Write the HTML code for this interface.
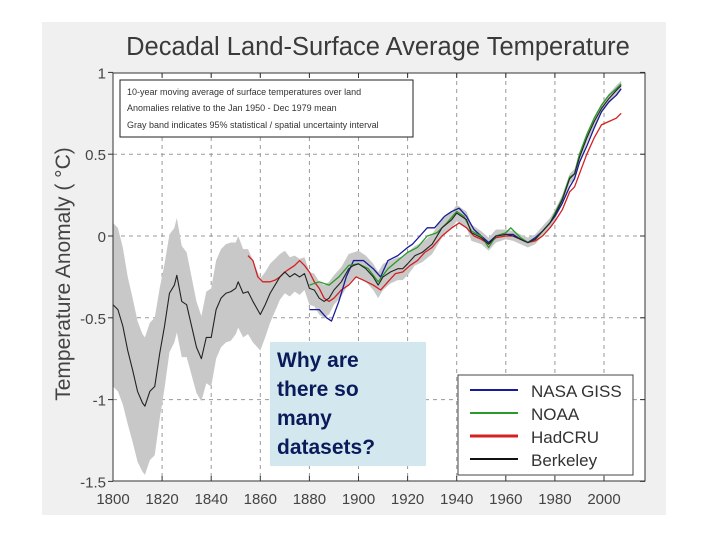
<!DOCTYPE html>
<html><head><meta charset="utf-8"><style>
html,body{margin:0;padding:0;background:#fff;width:720px;height:540px;overflow:hidden}
svg{display:block}
text{font-family:"Liberation Sans",sans-serif}
</style></head><body>
<svg id="chart" width="720" height="540" xmlns="http://www.w3.org/2000/svg">
<rect x="42" y="22" width="624" height="493" fill="#f0f0f0"/>
<rect x="113" y="73" width="532" height="408" fill="#fff"/>
<text x="378" y="55" text-anchor="middle" font-size="25.5" fill="#3a3a3a">Decadal Land-Surface Average Temperature</text>
<text transform="translate(70,274) rotate(-90)" text-anchor="middle" font-size="21" fill="#444">Temperature Anomaly ( °C)</text>
<g id="grid"></g><g id="band"></g><g id="lines"></g><g id="axes"></g>
<g>
<rect x="120" y="80" width="293" height="57" fill="#fff" stroke="#222" stroke-width="1"/>
<text x="127" y="95" font-size="9" fill="#333">10-year moving average of surface temperatures over land</text>
<text x="127" y="111" font-size="9" fill="#333">Anomalies relative to the Jan 1950 - Dec 1979 mean</text>
<text x="127" y="128" font-size="9" fill="#333">Gray band indicates 95% statistical / spatial uncertainty interval</text>
</g>
<g>
<rect x="458" y="375" width="175" height="100" fill="#fff" stroke="#444" stroke-width="1"/>
<line x1="470" y1="390" x2="518" y2="390" stroke="#1a1a9a" stroke-width="2"/>
<text x="531" y="397" font-size="17" fill="#333">NASA GISS</text>
<line x1="470" y1="413" x2="518" y2="413" stroke="#2a9a2a" stroke-width="2"/>
<text x="531" y="420" font-size="17" fill="#333">NOAA</text>
<line x1="470" y1="436" x2="518" y2="436" stroke="#d42020" stroke-width="3"/>
<text x="531" y="443" font-size="17" fill="#333">HadCRU</text>
<line x1="470" y1="459" x2="518" y2="459" stroke="#111" stroke-width="2"/>
<text x="531" y="466" font-size="17" fill="#333">Berkeley</text>
</g>
<g>
<rect x="270" y="342" width="156" height="124" fill="#d3e8ee"/>
<text font-family="DejaVu Sans,sans-serif" font-weight="bold" font-size="21" fill="#0a1a5a">
<tspan x="277" y="367">Why are</tspan><tspan x="277" y="396">there so</tspan><tspan x="277" y="425">many</tspan><tspan x="277" y="454">datasets?</tspan></text>
</g>
</svg>
<script>
const xTicks=[1800,1820,1840,1860,1880,1900,1920,1940,1960,1980,2000];
const yTicks=[1,0.5,0,-0.5,-1,-1.5];
const yTickLabels=["1","0.5","0","-0.5","-1","-1.5"];
const berkYears=[1800,1802,1804,1806,1808,1810,1812,1813,1815,1817,1819,1821,1823,1825,1826,1828,1830,1832,1834,1836,1838,1840,1842,1844,1846,1848,1850,1851,1853,1855,1857,1860,1862,1864,1866,1868,1870,1872,1874,1876,1878,1880,1882,1884,1886,1888,1890,1893,1896,1898,1900,1903,1906,1908,1910,1913,1916,1918,1920,1923,1926,1930,1934,1938,1940,1942,1944,1946,1950,1953,1956,1960,1963,1966,1969,1972,1975,1978,1980,1983,1986,1988,1990,1993,1996,1999,2002,2005,2007];
const berkVals=[-0.42,-0.45,-0.55,-0.7,-0.82,-0.95,-1.02,-1.04,-0.95,-0.92,-0.72,-0.55,-0.35,-0.3,-0.24,-0.4,-0.42,-0.55,-0.68,-0.75,-0.62,-0.62,-0.45,-0.38,-0.35,-0.34,-0.32,-0.28,-0.35,-0.34,-0.4,-0.48,-0.42,-0.35,-0.3,-0.25,-0.22,-0.25,-0.23,-0.25,-0.23,-0.32,-0.33,-0.38,-0.4,-0.38,-0.33,-0.28,-0.2,-0.18,-0.17,-0.2,-0.25,-0.3,-0.25,-0.22,-0.2,-0.2,-0.17,-0.12,-0.1,-0.05,0.05,0.1,0.14,0.12,0.1,0.02,-0.01,-0.05,0.0,0.01,0.0,-0.02,-0.04,-0.02,0.03,0.08,0.13,0.22,0.35,0.38,0.48,0.6,0.7,0.78,0.84,0.89,0.92];
const bandHalf=[0.5,0.5,0.48,0.45,0.44,0.43,0.42,0.42,0.42,0.42,0.4,0.38,0.36,0.35,0.35,0.34,0.32,0.3,0.28,0.26,0.28,0.3,0.3,0.3,0.3,0.3,0.28,0.28,0.27,0.26,0.25,0.22,0.2,0.18,0.16,0.14,0.13,0.12,0.11,0.11,0.1,0.1,0.1,0.1,0.1,0.1,0.09,0.09,0.09,0.08,0.08,0.08,0.08,0.08,0.08,0.07,0.07,0.07,0.07,0.06,0.06,0.06,0.06,0.05,0.05,0.05,0.05,0.05,0.04,0.04,0.04,0.03,0.03,0.03,0.03,0.03,0.03,0.03,0.03,0.03,0.03,0.03,0.03,0.03,0.03,0.03,0.03,0.03,0.03];
const nasaYears=[1880,1884,1887,1889,1892,1895,1898,1902,1906,1909,1912,1916,1920,1922,1925,1928,1931,1935,1938,1941,1944,1947,1950,1953,1956,1960,1963,1966,1969,1972,1975,1978,1980,1983,1986,1988,1990,1993,1996,1999,2002,2005,2007];
const nasaVals=[-0.45,-0.45,-0.5,-0.52,-0.4,-0.25,-0.15,-0.15,-0.2,-0.25,-0.15,-0.12,-0.07,-0.05,0.0,0.05,0.05,0.12,0.15,0.17,0.12,0.04,0.0,-0.04,0.0,0.01,0.01,-0.02,-0.04,-0.01,0.03,0.08,0.12,0.2,0.3,0.35,0.45,0.55,0.66,0.76,0.82,0.86,0.9];
const noaaYears=[1880,1884,1888,1892,1896,1900,1904,1908,1912,1916,1920,1924,1928,1932,1936,1940,1943,1946,1950,1953,1956,1960,1962,1966,1969,1972,1975,1978,1980,1983,1986,1988,1990,1993,1996,1999,2002,2005,2007];
const noaaVals=[-0.3,-0.28,-0.3,-0.25,-0.18,-0.17,-0.2,-0.28,-0.2,-0.15,-0.1,-0.07,0.0,0.02,0.08,0.15,0.12,0.03,0.0,-0.07,0.0,0.02,0.05,-0.01,-0.04,-0.02,0.03,0.08,0.14,0.23,0.36,0.38,0.5,0.62,0.72,0.8,0.86,0.9,0.93];
const hadYears=[1855,1857,1859,1861,1864,1866,1868,1870,1872,1874,1876,1878,1880,1882,1884,1886,1888,1890,1893,1896,1899,1902,1906,1909,1912,1915,1918,1921,1924,1927,1930,1934,1938,1941,1944,1947,1950,1953,1956,1960,1963,1966,1969,1972,1975,1978,1980,1983,1986,1988,1990,1993,1996,1999,2002,2005,2007];
const hadVals=[-0.12,-0.15,-0.25,-0.28,-0.28,-0.27,-0.25,-0.22,-0.2,-0.18,-0.15,-0.18,-0.22,-0.28,-0.32,-0.38,-0.4,-0.38,-0.33,-0.3,-0.25,-0.27,-0.3,-0.33,-0.28,-0.23,-0.22,-0.18,-0.15,-0.1,-0.07,0.0,0.05,0.08,0.05,0.0,-0.02,-0.05,-0.01,0.0,0.0,-0.02,-0.04,-0.03,0.0,0.05,0.09,0.16,0.27,0.3,0.38,0.5,0.6,0.68,0.7,0.72,0.75];

const X=y=>113+(y-1800)*2.455;
const Y=v=>236-v*163.6;
const NS="http://www.w3.org/2000/svg";
function mk(tag,attrs,parent){const e=document.createElementNS(NS,tag);for(const k in attrs)e.setAttribute(k,attrs[k]);document.getElementById(parent).appendChild(e);return e;}
const L=113,R=645,T=73,B=481;
xTicks.forEach(t=>{
  if(t>1800){const g=mk('line',{x1:X(t),x2:X(t),y1:T,y2:B,stroke:'#999','stroke-dasharray':'4,4','stroke-width':1},'grid');
  
  }
  const tk=mk('line',{x1:X(t),x2:X(t),y1:B,y2:B-5,stroke:'#333'},'axes');
  
  
  const tt=mk('line',{x1:X(t),x2:X(t),y1:T,y2:T+5,stroke:'#333'},'axes');
  
  
  const lb=mk('text',{x:X(t),y:B+23,'text-anchor':'middle','font-size':15,fill:'#444'},'axes');
  lb.textContent=t;
  
  
});
yTicks.forEach((t,i)=>{
  if(t<1&&t>-1.5){const g=mk('line',{x1:L,x2:R,y1:Y(t),y2:Y(t),stroke:'#999','stroke-dasharray':'4,4'},'grid');
  
  }
  const tk=mk('line',{x1:L-5,x2:L,y1:Y(t),y2:Y(t),stroke:'#333'},'axes');
  
  
  const tr=mk('line',{x1:R,x2:R-5,y1:Y(t),y2:Y(t),stroke:'#333'},'axes');
  
  
  const lb=mk('text',{x:L-7,y:Y(t)+6,'text-anchor':'end','font-size':15,fill:'#444'},'axes');
  lb.textContent=yTickLabels[i];
  
  
});
const fr=mk('rect',{x:L,y:T,width:R-L,height:B-T,fill:'none',stroke:'#333','stroke-width':1},'axes');


let up=berkYears.map((y,i)=>X(y)+','+Y(berkVals[i]+bandHalf[i]));
let dn=berkYears.map((y,i)=>X(y)+','+Y(berkVals[i]-bandHalf[i])).reverse();
const band=mk('polygon',{points:up.concat(dn).join(' '),fill:'#c8c8c8'},'band');


function line(ys,vs,col,w,name){const p=mk('polyline',{points:ys.map((y,i)=>X(y)+','+Y(vs[i])).join(' '),fill:'none',stroke:col,'stroke-width':w,'stroke-linejoin':'round'},'lines');

}
line(hadYears,hadVals,'#d42020',1.3,'hadcru-line');
line(nasaYears,nasaVals,'#1a1a9a',1.3,'nasa-giss-line');
line(noaaYears,noaaVals,'#2a9a2a',1.3,'noaa-line');
line(berkYears,berkVals,'#222',1.1,'berkeley-line');
</script>
</body></html>
